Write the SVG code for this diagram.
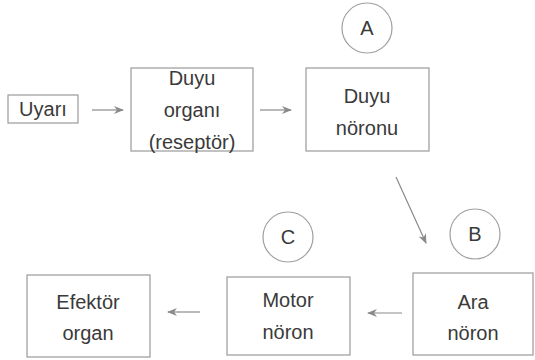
<svg xmlns="http://www.w3.org/2000/svg" width="535" height="360" viewBox="0 0 535 360">
<style>
.box{fill:#fff;stroke:#9a9a9a;stroke-width:1.2}
.circ{fill:#fff;stroke:#a0a0a0;stroke-width:1.2}
.t{font-family:"Liberation Sans",Arial,sans-serif;font-size:20px;fill:#3a3a3a;text-anchor:middle}
.c{stroke:#8a8a8a;stroke-width:1.2;fill:none;marker-end:url(#ah)}
</style>
<defs>
<marker id="ah" viewBox="0 0 10 10" refX="9" refY="5" markerWidth="10" markerHeight="10" markerUnits="userSpaceOnUse" orient="auto">
<path d="M0,1 L10,5 L0,9 L3,5 Z" fill="#8a8a8a"/>
</marker>
</defs>
<rect width="535" height="360" fill="#fff"/>
<g id="connectors">
<line class="c" x1="92" y1="110" x2="123" y2="110"/>
<line class="c" x1="260" y1="110" x2="291" y2="110"/>
<line class="c" x1="396" y1="177" x2="426" y2="243"/>
<line class="c" x1="402" y1="313" x2="368" y2="313"/>
<line class="c" x1="200" y1="312" x2="168" y2="312"/>
</g>
<g id="uyari">
<rect class="box" x="8" y="95" width="70" height="28"/>
<text class="t" x="43" y="116">Uyarı</text>
</g>
<g id="duyu-organi">
<rect class="box" x="131" y="68" width="122" height="83"/>
<text class="t" x="192" y="85">Duyu</text>
<text class="t" x="192" y="117">organı</text>
<text class="t" x="192" y="149">(reseptör)</text>
</g>
<g id="duyu-noronu">
<rect class="box" x="306" y="68" width="123" height="83"/>
<text class="t" x="367" y="103">Duyu</text>
<text class="t" x="367" y="135">nöronu</text>
</g>
<g id="A">
<circle class="circ" cx="367" cy="28" r="25"/>
<text class="t" x="367" y="35">A</text>
</g>
<g id="B">
<circle class="circ" cx="475" cy="234" r="25"/>
<text class="t" x="475" y="241">B</text>
</g>
<g id="C">
<circle class="circ" cx="288" cy="237" r="25"/>
<text class="t" x="288" y="244">C</text>
</g>
<g id="ara-noron">
<rect class="box" x="413" y="273" width="120" height="82"/>
<text class="t" x="473" y="309">Ara</text>
<text class="t" x="473" y="340">nöron</text>
</g>
<g id="motor-noron">
<rect class="box" x="227" y="277" width="123" height="78"/>
<text class="t" x="288" y="307">Motor</text>
<text class="t" x="288" y="339">nöron</text>
</g>
<g id="efektor-organ">
<rect class="box" x="27" y="275" width="123" height="82"/>
<text class="t" x="88" y="309">Efektör</text>
<text class="t" x="88" y="340">organ</text>
</g>
</svg>
